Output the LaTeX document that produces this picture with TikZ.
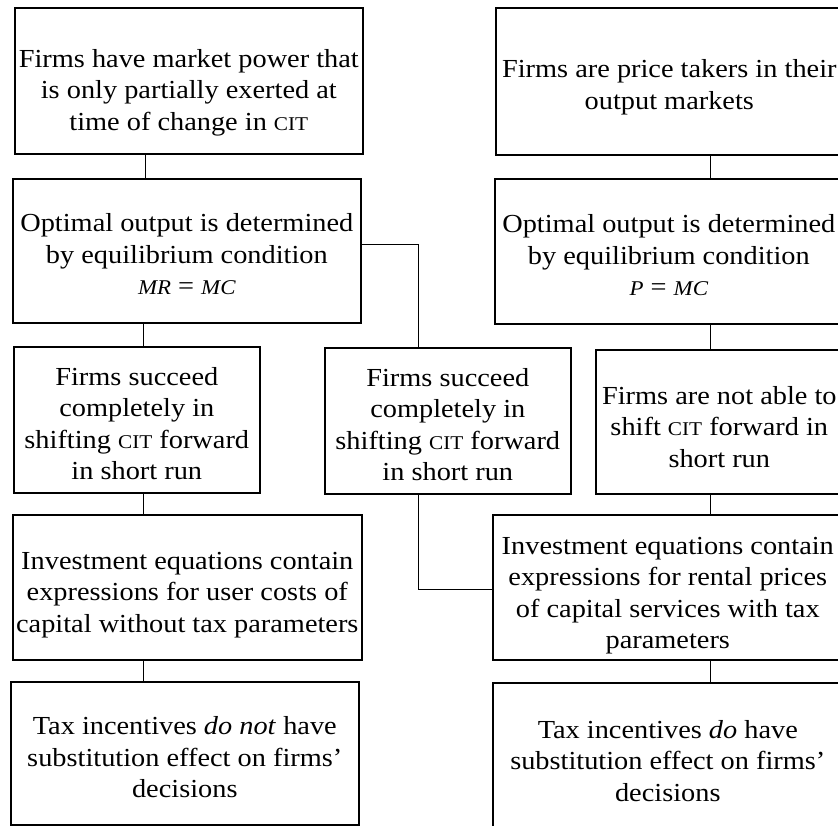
\documentclass[tikz,border=0pt]{standalone}
\usepackage{fontspec}
\setmainfont[FakeStretch=1.09]{Liberation Serif}
\newcommand{\citsc}{{\fontsize{19.5}{19.5}\selectfont CIT}}
\newcommand{\eqsize}{\fontsize{21}{24}\selectfont\itshape}
\newcommand{\padtop}[1]{\rule{0pt}{#1pt}}
\begin{document}
\begin{tikzpicture}[x=1pt,y=-1pt,
  box/.style={draw, line width=1.6pt, inner sep=0pt, anchor=north west, align=center,
    font=\fontsize{26}{31.5}\selectfont},
  conn/.style={line width=1pt}]
\useasboundingbox (0,0) rectangle (838,826);
\clip (0,0) rectangle (838,826);
% left column
\node[box, minimum width=348pt, minimum height=146pt] (a1) at (14,7)
  {\padtop{42}Firms have market power that\\is only partially exerted at\\time of change in \citsc};
\node[box, minimum width=348pt, minimum height=144pt] (a2) at (12,178)
  {\padtop{25}Optimal output is determined\\by equilibrium condition\\{\eqsize MR} = {\eqsize MC}};
\node[box, minimum width=246pt, minimum height=146pt] (a3) at (13,346)
  {\padtop{26}Firms succeed\\completely in\\shifting \citsc{} forward\\in short run};
\node[box, minimum width=349pt, minimum height=145pt] (a4) at (12,514)
  {\padtop{32}Investment equations contain\\expressions for user costs of\\capital without tax parameters};
\node[box, minimum width=348pt, minimum height=143pt] (a5) at (10,681)
  {\padtop{26}Tax incentives \textit{do not} have\\substitution effect on firms’\\decisions};
% middle
\node[box, minimum width=246pt, minimum height=146pt] (b3) at (324,347)
  {\padtop{26}Firms succeed\\completely in\\shifting \citsc{} forward\\in short run};
% right column
\node[box, minimum width=347pt, minimum height=147pt] (c1) at (495,7)
  {\padtop{30}Firms are price takers in their\\output markets};
\node[box, minimum width=348pt, minimum height=145pt] (c2) at (494,178)
  {\padtop{26}Optimal output is determined\\by equilibrium condition\\{\eqsize P} = {\eqsize MC}};
\node[box, minimum width=247pt, minimum height=144pt] (c3) at (595,349)
  {\padtop{28}Firms are not able to\\shift \citsc{} forward in\\short run};
\node[box, minimum width=350pt, minimum height=145pt] (c4) at (492,514)
  {\padtop{34}Investment equations contain\\expressions for rental prices\\of capital services with tax\\parameters};
\node[box, minimum width=350pt, minimum height=150pt] (c5) at (492,682)
  {\padtop{24}Tax incentives \textit{do} have\\substitution effect on firms’\\decisions};
% connectors
\draw[conn] (a1.south -| 145,0) -- (a2.north -| 145,0);
\draw[conn] (a2.south -| 143,0) -- (a3.north -| 143,0);
\draw[conn] (a3.south -| 143,0) -- (a4.north -| 143,0);
\draw[conn] (a4.south -| 143,0) -- (a5.north -| 143,0);
\draw[conn] (c1.south -| 710,0) -- (c2.north -| 710,0);
\draw[conn] (c2.south -| 710,0) -- (c3.north -| 710,0);
\draw[conn] (c3.south -| 710,0) -- (c4.north -| 710,0);
\draw[conn] (c4.south -| 710,0) -- (c5.north -| 710,0);
\draw[conn] (a2.east |- 0,245) -| (b3.north -| 418,0);
\draw[conn] (b3.south -| 418,0) |- (c4.west |- 0,589);
\end{tikzpicture}
\end{document}
